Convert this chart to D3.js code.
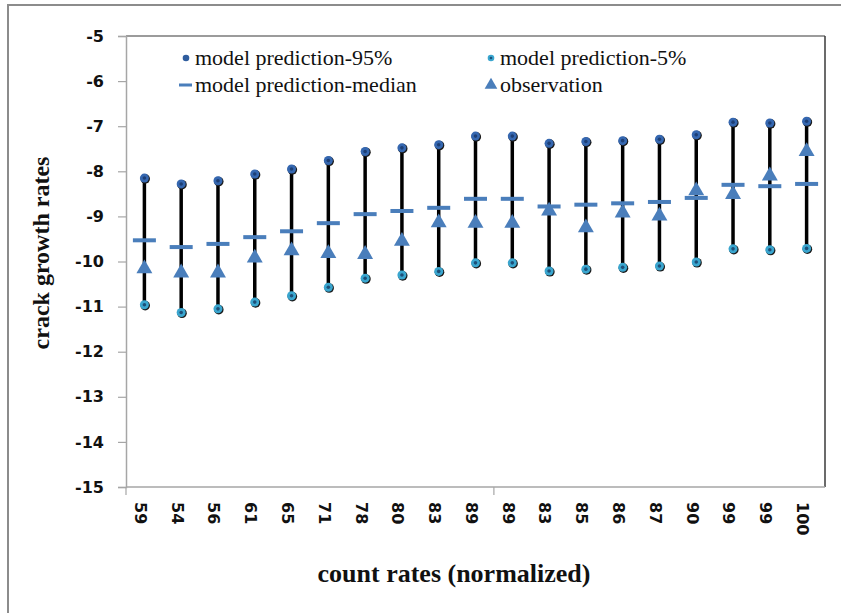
<!DOCTYPE html>
<html>
<head>
<meta charset="utf-8">
<script src="https://cdn.jsdelivr.net/npm/d3@7/dist/d3.min.js"></script>
<style>
  html, body { margin: 0; padding: 0; background: #fff; }
  svg { display: block; }
</style>
</head>
<body>
<div id="chart"></div>
<script>
// Normalized count rates for each sample (x categories)
const countRates = ["59", "54", "56", "61", "65", "71", "78", "80", "83", "89",
                    "89", "83", "85", "86", "87", "90", "99", "99", "100"];
// Model prediction, 95th percentile
const pred95 = [-8.15, -8.28, -8.21, -8.06, -7.95, -7.76, -7.56, -7.48, -7.41, -7.22,
                -7.22, -7.38, -7.34, -7.32, -7.29, -7.19, -6.91, -6.93, -6.89];
// Model prediction, 5th percentile
const pred5 = [-10.96, -11.13, -11.05, -10.90, -10.76, -10.57, -10.37, -10.30, -10.22, -10.03,
               -10.03, -10.21, -10.17, -10.13, -10.10, -10.01, -9.72, -9.74, -9.71];
// Model prediction, median
const predMedian = [-9.53, -9.68, -9.61, -9.46, -9.33, -9.15, -8.95, -8.88, -8.81, -8.61,
                    -8.61, -8.78, -8.74, -8.71, -8.68, -8.59, -8.30, -8.33, -8.28];
// Observed crack growth rates
const observation = [-10.16, -10.25, -10.25, -9.92, -9.76, -9.82, -9.84, -9.55, -9.14, -9.15,
                     -9.15, -8.88, -9.25, -8.92, -8.99, -8.43, -8.51, -8.10, -7.56];
const yTicks = [-5, -6, -7, -8, -9, -10, -11, -12, -13, -14, -15];

const W = 841, H = 613;
const plot = { left: 126, right: 825, top: 36, bottom: 487 };
const tickFont = "'DejaVu Sans', Verdana, sans-serif";
const serifFont = "'Liberation Serif', 'Times New Roman', serif";

const svg = d3.select("#chart").append("svg")
  .attr("width", W).attr("height", H);

// Outer frame of the chart
svg.append("path")
  .attr("d", `M8,${H + 2} L8,5 L${W + 2},5`)
  .attr("fill", "none").attr("stroke", "#8c8c8c").attr("stroke-width", 2);

const x = d3.scaleBand().domain(d3.range(countRates.length))
  .range([plot.left, plot.right]).padding(0);
const y = d3.scaleLinear().domain([-15, -5]).range([plot.bottom, plot.top]);

// Plot area border (top and right)
svg.append("line")
  .attr("x1", plot.left).attr("x2", plot.right).attr("y1", plot.top).attr("y2", plot.top)
  .attr("stroke", "#7a7a7a").attr("stroke-width", 1.5);
svg.append("line")
  .attr("x1", plot.right).attr("x2", plot.right).attr("y1", plot.top).attr("y2", plot.bottom)
  .attr("stroke", "#3a3a3a").attr("stroke-width", 1.5);

// Y axis
const yAxis = svg.append("g")
  .attr("transform", `translate(${plot.left},0)`)
  .call(d3.axisLeft(y).tickValues(yTicks).tickSize(8).tickPadding(14).tickFormat(d => String(d)));
yAxis.select(".domain").attr("stroke", "#a6a6a6").attr("stroke-width", 1.5);
yAxis.selectAll(".tick line").attr("stroke", "#a6a6a6").attr("stroke-width", 1.2);
yAxis.selectAll(".tick text")
  .attr("font-family", tickFont)
  .attr("font-weight", "bold").attr("font-size", 16).attr("fill", "#111");

// X axis line with tick marks every ten categories
svg.append("line")
  .attr("x1", plot.left).attr("x2", plot.right)
  .attr("y1", plot.bottom).attr("y2", plot.bottom)
  .attr("stroke", "#a6a6a6").attr("stroke-width", 1.5);
const xStep = x.step();
svg.selectAll(".xtick").data([0, 10]).enter().append("line")
  .attr("x1", d => plot.left + d * xStep).attr("x2", d => plot.left + d * xStep)
  .attr("y1", plot.bottom).attr("y2", plot.bottom + 8)
  .attr("stroke", "#a6a6a6").attr("stroke-width", 1.2);

// X tick labels, rotated
svg.selectAll(".xlabel").data(countRates).enter().append("text")
  .attr("transform", (d, i) => `translate(${x(i) + x.bandwidth() / 2 - 4},502) rotate(90)`)
  .attr("dy", "0.35em")
  .attr("font-family", tickFont)
  .attr("font-weight", "bold").attr("font-size", 16).attr("fill", "#111")
  .text(d => d);

const cx = i => x(i) + x.bandwidth() / 2;
const idx = d3.range(countRates.length);

// Error bars spanning 5% to 95%
svg.selectAll(".bar").data(idx).enter().append("line")
  .attr("x1", cx).attr("x2", cx)
  .attr("y1", i => y(pred95[i])).attr("y2", i => y(pred5[i]))
  .attr("stroke", "#000").attr("stroke-width", 3.5);

// Percentile markers
function dot(g, cxv, cyv, fill, core) {
  g.append("circle").attr("cx", cxv + 0.8).attr("cy", cyv + 0.8).attr("r", 4.8).attr("fill", "#1a1a1a");
  g.append("circle").attr("cx", cxv).attr("cy", cyv).attr("r", 4.5).attr("fill", fill);
  g.append("circle").attr("cx", cxv).attr("cy", cyv).attr("r", 1.8).attr("fill", core);
}
const dots = svg.append("g");
idx.forEach(i => dot(dots, cx(i), y(pred95[i]), "#3567b0", "#1d3f75"));
idx.forEach(i => dot(dots, cx(i), y(pred5[i]), "#3aa6cf", "#1d4f78"));

// Median dashes
svg.selectAll(".median").data(idx).enter().append("rect")
  .attr("x", i => cx(i) - 11.5).attr("y", i => y(predMedian[i]) - 2)
  .attr("width", 23).attr("height", 4)
  .attr("fill", "#4a7ebb");

// Observation triangles
const tri = d3.symbol().type(d3.symbolTriangle).size(110);
svg.selectAll(".obs").data(idx).enter().append("path")
  .attr("d", tri)
  .attr("transform", i => `translate(${cx(i)},${y(observation[i])})`)
  .attr("fill", "#4a7ebb");

// Legend
const legend = svg.append("g");
const legendItems = [
  { label: "model prediction-95%", x: 186, y: 58, kind: "dot95" },
  { label: "model prediction-5%", x: 491, y: 58, kind: "dot5" },
  { label: "model prediction-median", x: 186, y: 85, kind: "dash" },
  { label: "observation", x: 491, y: 85, kind: "tri" }
];
legendItems.forEach(it => {
  if (it.kind === "dot95") {
    legend.append("circle").attr("cx", it.x).attr("cy", it.y).attr("r", 3.3).attr("fill", "#2f5d9e");
  } else if (it.kind === "dot5") {
    legend.append("circle").attr("cx", it.x).attr("cy", it.y).attr("r", 3.3).attr("fill", "#3aa6cf");
    legend.append("circle").attr("cx", it.x).attr("cy", it.y).attr("r", 1.3).attr("fill", "#1d4f78");
  } else if (it.kind === "dash") {
    legend.append("rect").attr("x", it.x - 7).attr("y", it.y - 1.5).attr("width", 13).attr("height", 3).attr("fill", "#4a7ebb");
  } else {
    legend.append("path").attr("d", d3.symbol().type(d3.symbolTriangle).size(70))
      .attr("transform", `translate(${it.x},${it.y})`).attr("fill", "#4a7ebb");
  }
  legend.append("text")
    .attr("x", it.x + 9).attr("y", it.y + 7)
    .attr("font-family", serifFont).attr("font-size", 22).attr("fill", "#111")
    .text(it.label);
});

// Axis titles
svg.append("text")
  .attr("transform", "translate(49,253) rotate(-90)")
  .attr("text-anchor", "middle")
  .attr("font-family", serifFont).attr("font-weight", "bold").attr("font-size", 24).attr("fill", "#111")
  .text("crack growth rates");
svg.append("text")
  .attr("x", 454).attr("y", 582)
  .attr("text-anchor", "middle")
  .attr("font-family", serifFont).attr("font-weight", "bold").attr("font-size", 26).attr("fill", "#111")
  .text("count rates (normalized)");
</script>
</body>
</html>
